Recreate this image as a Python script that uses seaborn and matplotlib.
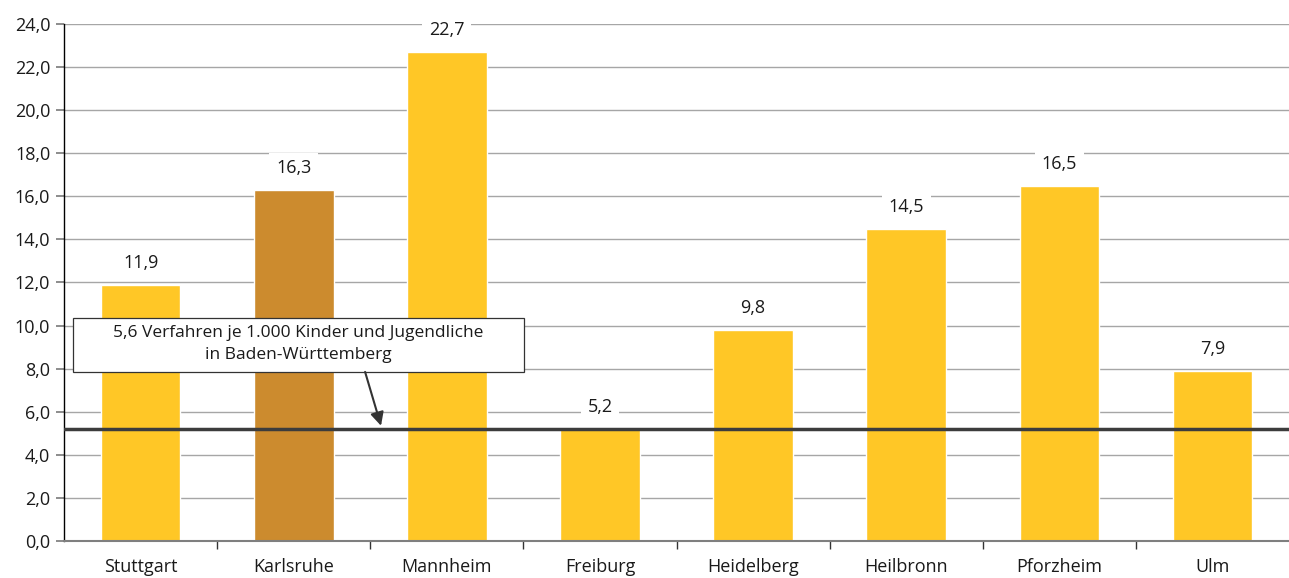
import matplotlib
matplotlib.use("Agg")
import matplotlib.pyplot as plt
from matplotlib.patches import Rectangle
import seaborn as sns
import pandas as pd

# values
staedte = ["Stuttgart", "Karlsruhe", "Mannheim", "Freiburg", "Heidelberg",
           "Heilbronn", "Pforzheim", "Ulm"]
werte = [11.9, 16.3, 22.7, 5.2, 9.8, 14.5, 16.5, 7.9]
land_linie = 5.2
land_text = "5,6 Verfahren je 1.000 Kinder und Jugendliche\nin Baden-Württemberg"

gelb = "#FFC726"
braun = "#CC8B2E"
farben = [braun if s == "Karlsruhe" else gelb for s in staedte]

sns.set_theme(style="white")
plt.rcParams['font.family'] = ['Open Sans', 'DejaVu Sans']

df = pd.DataFrame({"stadt": staedte, "wert": werte})

fig = plt.figure(figsize=(12.89, 5.78), dpi=100)
ax = fig.add_axes([0.0497, 0.064, 0.9503, 0.8945])

sns.barplot(data=df, x="stadt", y="wert", hue="stadt", palette=farben,
            legend=False, width=0.52, saturation=1, ax=ax, zorder=2)

ax.set_ylim(0, 24)
ax.set_xlim(-0.5, len(staedte) - 0.5)
ax.set_yticks(range(0, 25, 2))
ax.set_yticklabels([f"{v:.1f}".replace(".", ",") for v in range(0, 25, 2)],
                   fontsize=13, color="#1A1A1A")
ax.yaxis.grid(True, color="#A6A6A6", linewidth=1, zorder=0)
ax.set_axisbelow(True)
ax.set_xlabel("")
ax.set_ylabel("")
ax.tick_params(axis="x", labelsize=13, length=0, pad=12, labelcolor="#1A1A1A")
ax.tick_params(axis="y", left=True, length=6, color="#7F7F7F", pad=4)

# category separator ticks
ax.set_xticks([i + 0.5 for i in range(len(staedte) - 1)], minor=True)
ax.tick_params(axis="x", which="minor", bottom=True, length=6, color="#333333")

for s in ["top", "right"]:
    ax.spines[s].set_visible(False)
ax.spines["left"].set_color("black")
ax.spines["left"].set_linewidth(1)
ax.spines["bottom"].set_color("#7F7F7F")
ax.spines["bottom"].set_linewidth(1.5)

for cont in ax.containers:
    ax.bar_label(cont, labels=[f"{v:.1f}".replace(".", ",") for v in cont.datavalues],
                 padding=9, fontsize=13, color="#1A1A1A",
                 bbox=dict(facecolor="white", edgecolor="none", pad=5))

ax.axhline(land_linie, color="#3C3C3C", linewidth=2.5, zorder=3)

# annotation box
box_x0, box_x1 = -0.441, 2.505
box_y0, box_y1 = 7.85, 10.35
ax.add_patch(Rectangle((box_x0, box_y0), box_x1 - box_x0, box_y1 - box_y0,
                       facecolor="white", edgecolor="#333333", linewidth=0.9,
                       zorder=5))
ax.text((box_x0 + box_x1) / 2, (box_y0 + box_y1) / 2 + 0.05, land_text,
        ha="center", va="center", fontsize=12.5, color="#1A1A1A",
        linespacing=1.45, zorder=6)
ax.annotate("", xy=(1.57, land_linie + 0.15), xytext=(1.466, box_y0),
            arrowprops=dict(arrowstyle="-|>", color="#333333", lw=1.5,
                            mutation_scale=20, shrinkA=0, shrinkB=0),
            zorder=6)

fig.savefig("out.png", dpi=100)
